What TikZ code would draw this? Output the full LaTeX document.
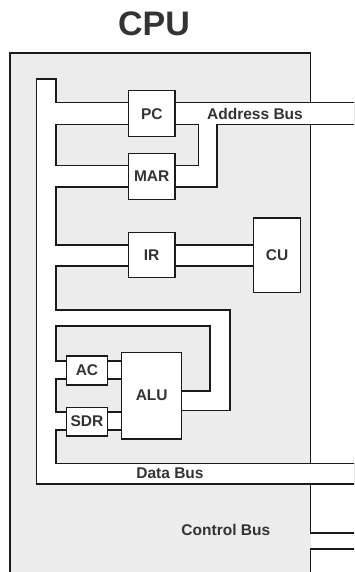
\documentclass[tikz,border=0pt]{standalone}
\usepackage{fontspec}
\setmainfont{Liberation Sans}
\definecolor{cpugray}{HTML}{ECECEC}
\definecolor{txt}{HTML}{333333}
\definecolor{ln}{HTML}{1A1A1A}
\begin{document}
\begin{tikzpicture}[x=1pt,y=-1pt,
  unit/.style={draw=ln,line width=1.2pt,fill=white,inner sep=0pt,
    font=\fontsize{15.5}{18}\selectfont\bfseries,text=txt},
  lbl/.style={inner sep=0pt,font=\fontsize{15.5}{18}\selectfont\bfseries,text=txt}]
\useasboundingbox (0,0) rectangle (354,572);
\clip (0,0) rectangle (354,572);
\fill[white] (0,0) rectangle (354,572);
% CPU box
\fill[cpugray] (10,53) rectangle (310.7,580);
\draw[ln,line width=1.2pt] (10,580) -- (10,53) -- (310.7,53) -- (310.7,533) -- (360,533);
\draw[ln,line width=1.2pt] (360,549) -- (310.7,549) -- (310.7,580);
% bus channels: black pass then white pass
\def\chans{36.7/79/56/484, 36.7/463.3/360/484, 46/102.7/360/124.7,
  198.3/110/217/187, 46/165.7/217/187, 46/245/260/266,
  46/310/230/326, 210/310/230/410.7, 175/391/230/410.7,
  46/361/130/379, 46/412/130/430}
\foreach \xa/\ya/\xb/\yb in \chans
  \fill[ln] (\xa-0.6,\ya-0.6) rectangle (\xb+0.6,\yb+0.6);
\foreach \xa/\ya/\xb/\yb in \chans
  \fill[white] (\xa+0.6,\ya+0.6) rectangle (\xb-0.6,\yb-0.6);
% units
\node[unit,minimum width=46.3pt,minimum height=46pt] (pc) at (151.85,113.7) {PC};
\node[unit,minimum width=46.7pt,minimum height=46pt] (mar) at (151.65,176.3) {MAR};
\node[unit,minimum width=46.7pt,minimum height=45.4pt] (ir) at (151.65,255) {IR};
\node[unit,minimum width=47.4pt,minimum height=74.7pt] (cu) at (277,255.35) {CU};
\node[unit,minimum width=40.6pt,minimum height=29pt] (ac) at (87,370.5) {AC};
\node[unit,minimum width=40.6pt,minimum height=28.7pt] (sdr) at (87,421.65) {SDR};
\node[unit,minimum width=60pt,minimum height=86.7pt] (alu) at (151.7,395.65) {ALU};
% labels
\node[inner sep=0pt,font=\fontsize{34}{40}\selectfont\bfseries,text=txt] (title) at (154,23.5) {CPU};
\node[lbl] (abus) at (255,113.7) {Address Bus};
\node[lbl] (dbus) at (170,473.6) {Data Bus};
\node[lbl] (cbus) at (225.8,529.5) {Control Bus};
\end{tikzpicture}
\end{document}
